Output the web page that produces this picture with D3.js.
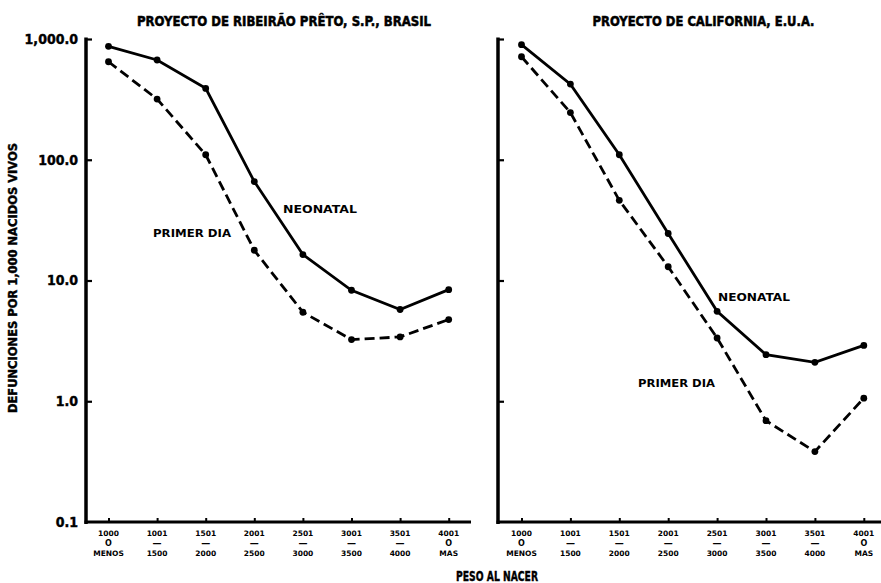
<!DOCTYPE html>
<html>
<head>
<meta charset="utf-8">
<script src="https://cdn.jsdelivr.net/npm/d3@7"></script>
<style>
  html, body { margin: 0; padding: 0; background: #fff; }
  svg { display: block; }
</style>
</head>
<body>
<svg id="chart" width="881" height="583"></svg>
<script>
// ---- data ----
const categories = ["1000", "1001", "1501", "2001", "2501", "3001", "3501", "4001"];
const catMid = ["O", "—", "—", "—", "—", "—", "—", "O"];
const catBottom = ["MENOS", "1500", "2000", "2500", "3000", "3500", "4000", "MAS"];

const ribeiraoNeonatal = [870, 670, 390, 66, 16.4, 8.3, 5.75, 8.4];
const ribeiraoPrimerDia = [648, 318, 110, 17.8, 5.46, 3.24, 3.41, 4.75];
const californiaNeonatal = [897, 423, 110, 24.5, 5.56, 2.43, 2.10, 2.90];
const californiaPrimerDia = [713, 246, 46.1, 13.0, 3.34, 0.69, 0.383, 1.06];

const yTickValues = [1000, 100, 10, 1, 0.1];
const yTickLabels = ["1,000.0", "100.0", "10.0", "1.0", "0.1"];

const titles = ["PROYECTO DE RIBEIRÃO PRÊTO, S.P., BRASIL", "PROYECTO DE CALIFORNIA, E.U.A."];
const yTitle = "DEFUNCIONES POR 1,000 NACIDOS VIVOS";
const xTitle = "PESO AL NACER";
const seriesNames = ["NEONATAL", "PRIMER DIA"];

// ---- drawing ----
const svg = d3.select("#chart");
const condensed = "'Liberation Sans Narrow', 'DejaVu Sans Condensed', sans-serif";
const rounded = "'DejaVu Sans', Verdana, sans-serif";

const y = d3.scaleLog().domain([0.1, 1000]).range([522, 39]);

const panels = [
  { axisX: 86, axisEnd: 471, range: [108.5, 448.7], title: titles[0], titleX: 284, titleLen: 294,
    neo: ribeiraoNeonatal, pd: ribeiraoPrimerDia,
    neoLab: [283, 213, 74], pdLab: [153, 237, 78] },
  { axisX: 498, axisEnd: 881, range: [521.5, 863.8], title: titles[1], titleX: 703.5, titleLen: 222,
    neo: californiaNeonatal, pd: californiaPrimerDia,
    neoLab: [718, 301, 72], pdLab: [638, 387, 77] }
];

function heavy(sel, w) {
  return sel.attr("stroke", "#000").attr("stroke-width", w).attr("paint-order", "stroke");
}

panels.forEach((p, pi) => {
  const x = d3.scalePoint().domain(categories).range(p.range);
  const g = svg.append("g");

  // title
  heavy(g.append("text")
    .attr("x", p.titleX).attr("y", 25.5)
    .attr("text-anchor", "middle")
    .attr("font-family", condensed).attr("font-weight", "bold").attr("font-size", 14)
    .attr("textLength", p.titleLen).attr("lengthAdjust", "spacingAndGlyphs")
    .text(p.title), 0.5);

  // y axis (inward ticks)
  const yAxis = d3.axisRight(y).tickValues(yTickValues.slice(0, 4)).tickSize(6).tickSizeOuter(0).tickFormat("");
  const ya = g.append("g").attr("transform", `translate(${p.axisX},0)`).call(yAxis);
  ya.select(".domain").remove();
  ya.selectAll(".tick line").attr("stroke", "#000").attr("stroke-width", 2.2);
  g.append("line")
    .attr("x1", p.axisX).attr("x2", p.axisX)
    .attr("y1", y(1000) - 1.5).attr("y2", y(0.1) + 2)
    .attr("stroke", "#000").attr("stroke-width", 3.5);

  // x axis
  const xAxis = d3.axisTop(x).tickSize(4).tickSizeOuter(0).tickFormat("");
  const xa = g.append("g").attr("transform", `translate(0,${y(0.1)})`).call(xAxis);
  xa.select(".domain").remove();
  xa.selectAll(".tick line").attr("stroke", "#000").attr("stroke-width", 2);
  g.append("line")
    .attr("x1", p.axisX - 1.5).attr("x2", p.axisEnd)
    .attr("y1", y(0.1)).attr("y2", y(0.1))
    .attr("stroke", "#000").attr("stroke-width", 3);

  // x tick labels (three lines)
  const lab = g.append("g")
    .attr("font-family", rounded).attr("font-weight", "bold").attr("font-size", 7.5)
    .attr("text-anchor", "middle");
  categories.forEach((c, i) => {
    const cx = x(c);
    lab.append("text").attr("x", cx).attr("y", 535.5).text(c);
    lab.append("text").attr("x", cx).attr("y", 546).attr("font-size", catMid[i] === "O" ? 8 : 9).text(catMid[i]);
    lab.append("text").attr("x", cx).attr("y", 555.5).text(catBottom[i]);
  });

  // lines
  const line = d3.line().x((d, i) => x(categories[i])).y(d => y(d));
  g.append("path").datum(p.neo).attr("d", line)
    .attr("fill", "none").attr("stroke", "#000").attr("stroke-width", 2.8);
  g.append("path").datum(p.pd).attr("d", line)
    .attr("fill", "none").attr("stroke", "#000").attr("stroke-width", 2.8)
    .attr("stroke-dasharray", "10,5");

  [p.neo, p.pd].forEach(s => {
    g.selectAll(null).data(s).enter().append("circle")
      .attr("cx", (d, i) => x(categories[i])).attr("cy", d => y(d)).attr("r", 3.4)
      .attr("fill", "#000");
  });

  // series labels
  [[seriesNames[0], p.neoLab], [seriesNames[1], p.pdLab]].forEach(([t, pos]) => {
    g.append("text")
      .attr("x", pos[0]).attr("y", pos[1])
      .attr("font-family", rounded).attr("font-weight", "bold").attr("font-size", 11)
      .attr("textLength", pos[2]).attr("lengthAdjust", "spacingAndGlyphs")
      .text(t);
  });

  // y tick labels only for the first panel
  if (pi === 0) {
    heavy(g.selectAll(null).data(yTickValues).enter().append("text")
      .attr("x", 78).attr("y", d => y(d)).attr("dy", "0.35em")
      .attr("text-anchor", "end")
      .attr("font-family", condensed).attr("font-weight", "bold").attr("font-size", 14)
      .text((d, i) => yTickLabels[i]), 0.4);
  }
});

// y title
heavy(svg.append("text")
  .attr("transform", "translate(17,278) rotate(-90)")
  .attr("text-anchor", "middle")
  .attr("font-family", condensed).attr("font-weight", "bold").attr("font-size", 12.5)
  .attr("textLength", 270).attr("lengthAdjust", "spacingAndGlyphs")
  .text(yTitle), 0.4);

// x title
heavy(svg.append("text")
  .attr("x", 497).attr("y", 581)
  .attr("text-anchor", "middle")
  .attr("font-family", condensed).attr("font-weight", "bold").attr("font-size", 14)
  .attr("textLength", 82).attr("lengthAdjust", "spacingAndGlyphs")
  .text(xTitle), 0.4);
</script>
</body>
</html>
